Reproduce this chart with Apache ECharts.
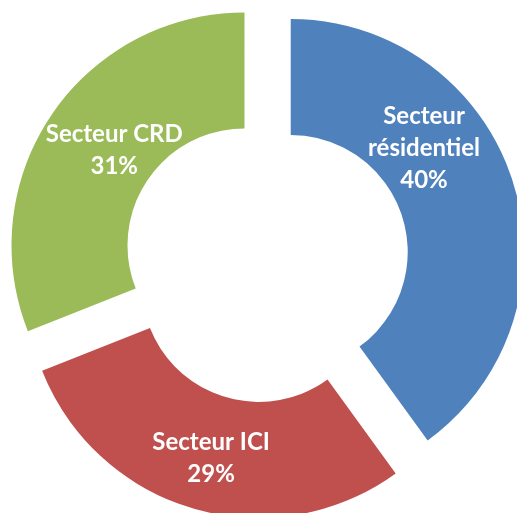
<!DOCTYPE html>
<html>
<head>
<meta charset="utf-8">
<script src="https://cdn.jsdelivr.net/npm/echarts@6/dist/echarts.min.js"></script>
<style>
  html, body { margin: 0; padding: 0; background: #fff; }
  #main { width: 517px; height: 513px; }
</style>
</head>
<body>
<div id="main"></div>
<script>
var sectors = ['Secteur\nrésidentiel', 'Secteur ICI', 'Secteur CRD'];
var shares = [40, 29, 31];
var colors = ['#4F81BD', '#C0504D', '#9BBB59'];
// nudges so the labels sit where they were placed in the original
var labelShift = [[-36, -49], [2, 2], [17, 5]];

var myChart = echarts.init(document.getElementById('main'));

var data = sectors.map(function (name, i) {
    return {
        name: name,
        value: shares[i],
        selected: true,
        itemStyle: { color: colors[i] }
    };
});

option = {
    animation: false,
    series: [
        {
            type: 'pie',
            center: [266, 260],
            radius: [117, 233],
            startAngle: 90,
            clockwise: true,
            selectedMode: 'multiple',
            selectedOffset: 26,
            emphasis: { scale: false },
            select: { itemStyle: { borderWidth: 0 } },
            label: {
                show: true,
                position: 'inside',
                formatter: function (p) {
                    return p.name + '\n' + p.value + '%';
                },
                color: '#fff',
                fontFamily: 'Lato',
                fontWeight: 'bold',
                fontSize: 24,
                lineHeight: 32,
                align: 'center'
            },
            labelLayout: function (params) {
                var s = labelShift[params.dataIndex];
                return { dx: s[0], dy: s[1] };
            },
            labelLine: { show: false },
            data: data
        }
    ]
};

myChart.setOption(option);
</script>
</body>
</html>
